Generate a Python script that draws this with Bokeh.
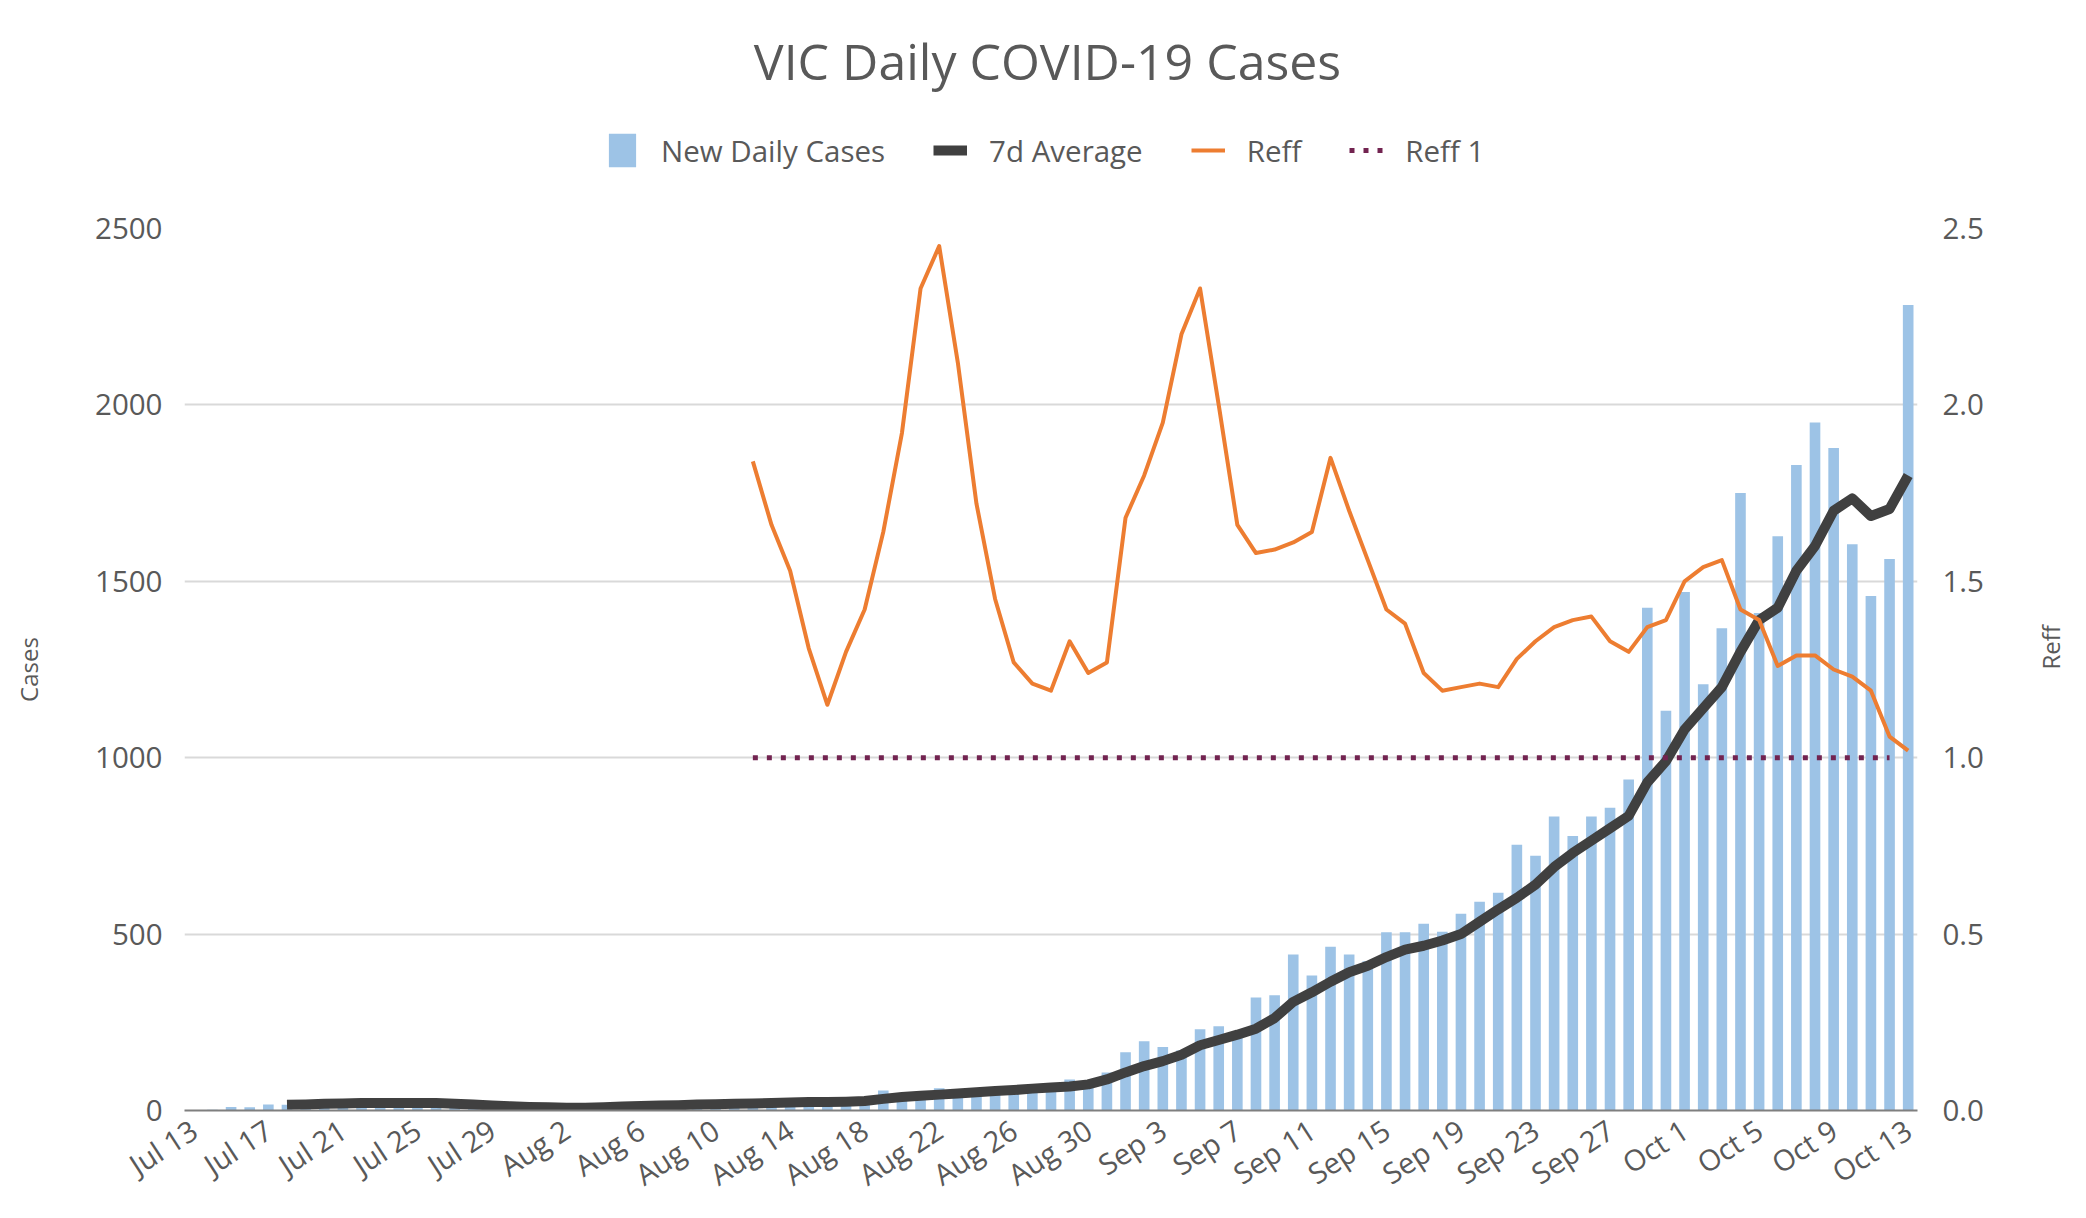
import math
import pandas as pd
from bokeh.plotting import figure
from bokeh.layouts import column
from bokeh.models import (ColumnDataSource, Range1d, LinearAxis, FixedTicker,
                          NumeralTickFormatter, Legend, LegendItem, Label)
from bokeh.embed import file_html
from bokeh.resources import INLINE

# ---------------- data ----------------
dates = [d.strftime("%b ") + str(d.day) for d in pd.date_range("2021-07-13", "2021-10-13")]
day_index = list(range(len(dates)))

new_cases = [
    0, 2, 10, 9, 17, 16, 13, 22, 26, 26,          # Jul 13 - Jul 22
    14, 12, 11, 10, 16, 6, 3, 2, 1, 0,            # Jul 23 - Aug 1
    2, 4, 6, 8, 6, 11, 6, 13, 20, 21,             # Aug 2 - Aug 11
    20, 15, 21, 24, 22, 24, 25, 57, 45, 45,       # Aug 12 - Aug 21
    63, 55, 50, 45, 60, 65, 64, 88, 73, 108,      # Aug 22 - Aug 31
    165, 196, 180, 170, 230, 239, 221, 320, 327, 442,   # Sep 1 - Sep 10
    383, 464, 442, 423, 505, 505, 529, 507, 558, 592,   # Sep 11 - Sep 20
    617, 753, 722, 833, 778, 833, 858, 938, 1425, 1133, # Sep 21 - Sep 30
    1470, 1208, 1367, 1750, 1410, 1628, 1830, 1950, 1878, 1605,  # Oct 1 - Oct 10
    1458, 1563, 2283,                             # Oct 11 - Oct 13
]

avg_start = 5  # 7d average begins Jul 18
avg_7d = [
    16, 17, 19, 20, 21, 21, 21, 21, 21, 19,       # idx 5-14
    17, 14, 12, 10, 9, 8, 8, 9, 11, 13,           # idx 15-24
    14, 15, 17, 18, 19, 20, 21, 23, 24, 24,       # idx 25-34
    25, 27, 33, 38, 42, 45, 48, 52, 55, 58,       # idx 35-44
    62, 65, 68, 74, 88, 108, 126, 140, 158, 185,  # idx 45-54
    200, 215, 232, 262, 308, 335, 365, 392, 410, 435,  # idx 55-64
    456, 467, 482, 500, 535, 570, 603, 640, 690, 730,  # idx 65-74
    765, 800, 835, 930, 990, 1080, 1140, 1200, 1300, 1390,  # idx 75-84
    1425, 1530, 1600, 1700, 1735, 1685, 1705, 1800,  # idx 85-92
]

reff_start = 30  # Reff begins Aug 12
reff = [
    1.84, 1.66, 1.53, 1.31, 1.15, 1.30, 1.42, 1.64, 1.92, 2.33,  # idx 30-39
    2.45, 2.12, 1.72, 1.45, 1.27, 1.21, 1.19, 1.33, 1.24, 1.27,  # idx 40-49
    1.68, 1.80, 1.95, 2.20, 2.33, 2.00, 1.66, 1.58, 1.59, 1.61,  # idx 50-59
    1.64, 1.85, 1.70, 1.56, 1.42, 1.38, 1.24, 1.19, 1.20, 1.21,  # idx 60-69
    1.20, 1.28, 1.33, 1.37, 1.39, 1.40, 1.33, 1.30, 1.37, 1.39,  # idx 70-79
    1.50, 1.54, 1.56, 1.42, 1.39, 1.26, 1.29, 1.29, 1.25, 1.23,  # idx 80-89
    1.19, 1.06, 1.02,                                            # idx 90-92
]

reff1_level = 1.0
reff1_start, reff1_end = 30, 91

tick_positions = day_index[::4]
tick_labels = dates[::4]
left_ticks = [0, 500, 1000, 1500, 2000, 2500]
right_ticks = [0.0, 0.5, 1.0, 1.5, 2.0, 2.5]

title_text = "VIC Daily COVID-19 Cases"
series_names = ["New Daily Cases", "7d Average", "Reff", "Reff 1"]

# ---------------- style ----------------
FONT = "Open Sans"
TXT = "#595959"
BAR = "#9DC3E6"
AVG = "#404040"
REFF = "#ED7D31"
REFF1 = "#722350"
GRID = "#D9D9D9"
W = 2086
HEAD_H = 200
MAIN_H = 1014
B_LEFT, B_RIGHT, B_TOP, B_BOTTOM = 184, 160, 28, 104

bar_style = dict(fill_color=BAR, line_color=None)
avg_style = dict(line_color=AVG, line_width=10, line_join="round", line_cap="butt")
reff_style = dict(line_color=REFF, line_width=4, line_join="round")
r1_style = dict(line_color=REFF1, line_width=5, line_dash="5 9", line_cap="butt")

# ---------------- header (title + legend) ----------------
head = figure(width=W, height=HEAD_H,
              x_range=Range1d(0, 1), y_range=Range1d(0, 1),
              output_backend="svg", toolbar_location=None,
              x_axis_location=None, y_axis_location=None,
              min_border_left=B_LEFT, min_border_right=B_RIGHT,
              min_border_top=B_TOP, min_border_bottom=0)
head.outline_line_color = None
head.grid.visible = False
head.background_fill_color = "white"
head.border_fill_color = "white"

# screen units: x from the frame's left edge, y up from the frame's bottom edge
head.add_layout(Label(x=1047 - B_LEFT, y=HEAD_H - 60, x_units="screen", y_units="screen",
                      text=title_text, text_align="center",
                      text_baseline="middle", text_font=FONT,
                      text_font_size="50px", text_color=TXT))

nan = float("nan")
proxy_bar = ColumnDataSource(dict(x=[nan], top=[nan]))
proxy_line = ColumnDataSource(dict(x=[nan], y=[nan]))
lg_bar = head.vbar(x="x", top="top", width=1, source=proxy_bar, **bar_style)
lg_avg = head.line(x="x", y="y", source=proxy_line, **avg_style)
lg_reff = head.line(x="x", y="y", source=proxy_line, **reff_style)
lg_r1 = head.line(x="x", y="y", source=proxy_line, **r1_style)

legend = Legend(items=[LegendItem(label=series_names[0], renderers=[lg_bar]),
                       LegendItem(label=series_names[1], renderers=[lg_avg]),
                       LegendItem(label=series_names[2], renderers=[lg_reff]),
                       LegendItem(label=series_names[3], renderers=[lg_r1])],
                orientation="horizontal",
                location=(605 - B_LEFT, HEAD_H - 171),
                border_line_color=None, background_fill_alpha=0,
                padding=0, margin=0, spacing=48, label_standoff=22,
                glyph_width=34, glyph_height=42,
                label_text_font=FONT, label_text_font_size="29.5px",
                label_text_color=TXT)
head.add_layout(legend)

# ---------------- main chart ----------------
src_bars = ColumnDataSource(dict(x=day_index, cases=new_cases))
src_avg = ColumnDataSource(dict(x=day_index[avg_start:avg_start + len(avg_7d)], avg=avg_7d))
src_reff = ColumnDataSource(dict(x=day_index[reff_start:reff_start + len(reff)], reff=reff))
r1_x = day_index[reff1_start:reff1_end + 1]
src_r1 = ColumnDataSource(dict(x=r1_x, level=[reff1_level] * len(r1_x)))

p = figure(x_range=Range1d(-0.5, len(dates) - 0.5),
           y_range=Range1d(0, 2500),
           width=W, height=MAIN_H,
           output_backend="svg", toolbar_location=None,
           min_border_left=B_LEFT, min_border_right=B_RIGHT,
           min_border_top=B_TOP, min_border_bottom=B_BOTTOM)
p.outline_line_color = None
p.background_fill_color = "white"
p.border_fill_color = "white"
p.extra_y_ranges = {"reff": Range1d(0, 2.5)}

bars = p.vbar(x="x", top="cases", width=0.57, source=src_bars, **bar_style)
avg_r = p.line(x="x", y="avg", source=src_avg, **avg_style)
reff_r = p.line(x="x", y="reff", source=src_reff, y_range_name="reff", **reff_style)
r1_r = p.line(x="x", y="level", source=src_r1, y_range_name="reff", **r1_style)

# grid
p.xgrid.grid_line_color = None
p.ygrid.grid_line_color = GRID
p.ygrid.grid_line_width = 2
p.ygrid.ticker = FixedTicker(ticks=left_ticks)

# x axis
xa = p.xaxis[0]
xa.ticker = FixedTicker(ticks=tick_positions)
xa.major_label_overrides = {pos: lab for pos, lab in zip(tick_positions, tick_labels)}
xa.major_label_orientation = math.radians(33)
xa.major_tick_line_color = None
xa.minor_tick_line_color = None
xa.axis_line_color = "#7F7F7F"
xa.axis_line_width = 2
xa.major_label_text_font = FONT
xa.major_label_text_font_size = "29px"
xa.major_label_text_color = TXT
xa.major_label_standoff = 10

# left axis
ya = p.yaxis[0]
ya.ticker = FixedTicker(ticks=left_ticks)
ya.formatter = NumeralTickFormatter(format="0")
ya.axis_line_color = None
ya.major_tick_line_color = None
ya.minor_tick_line_color = None
ya.major_label_text_font = FONT
ya.major_label_text_font_size = "29.5px"
ya.major_label_text_color = TXT
ya.major_label_standoff = 16
ya.axis_label = "Cases"
ya.axis_label_text_font = FONT
ya.axis_label_text_font_size = "24px"
ya.axis_label_text_font_style = "normal"
ya.axis_label_text_color = TXT
ya.axis_label_standoff = 47

# right axis
ra = LinearAxis(y_range_name="reff", ticker=FixedTicker(ticks=right_ticks),
                formatter=NumeralTickFormatter(format="0.0"))
ra.axis_line_color = None
ra.major_tick_line_color = None
ra.minor_tick_line_color = None
ra.major_label_text_font = FONT
ra.major_label_text_font_size = "29.5px"
ra.major_label_text_color = TXT
ra.major_label_standoff = 19
ra.axis_label = "Reff"
ra.axis_label_text_font = FONT
ra.axis_label_text_font_size = "24px"
ra.axis_label_text_font_style = "normal"
ra.axis_label_text_color = TXT
ra.axis_label_standoff = 64
if "axis_label_orientation" in ra.properties():
    ra.axis_label_orientation = math.pi / 2
p.add_layout(ra, "right")

layout = column(head, p, spacing=0)
open("out.html", "w").write(file_html(layout, INLINE))
